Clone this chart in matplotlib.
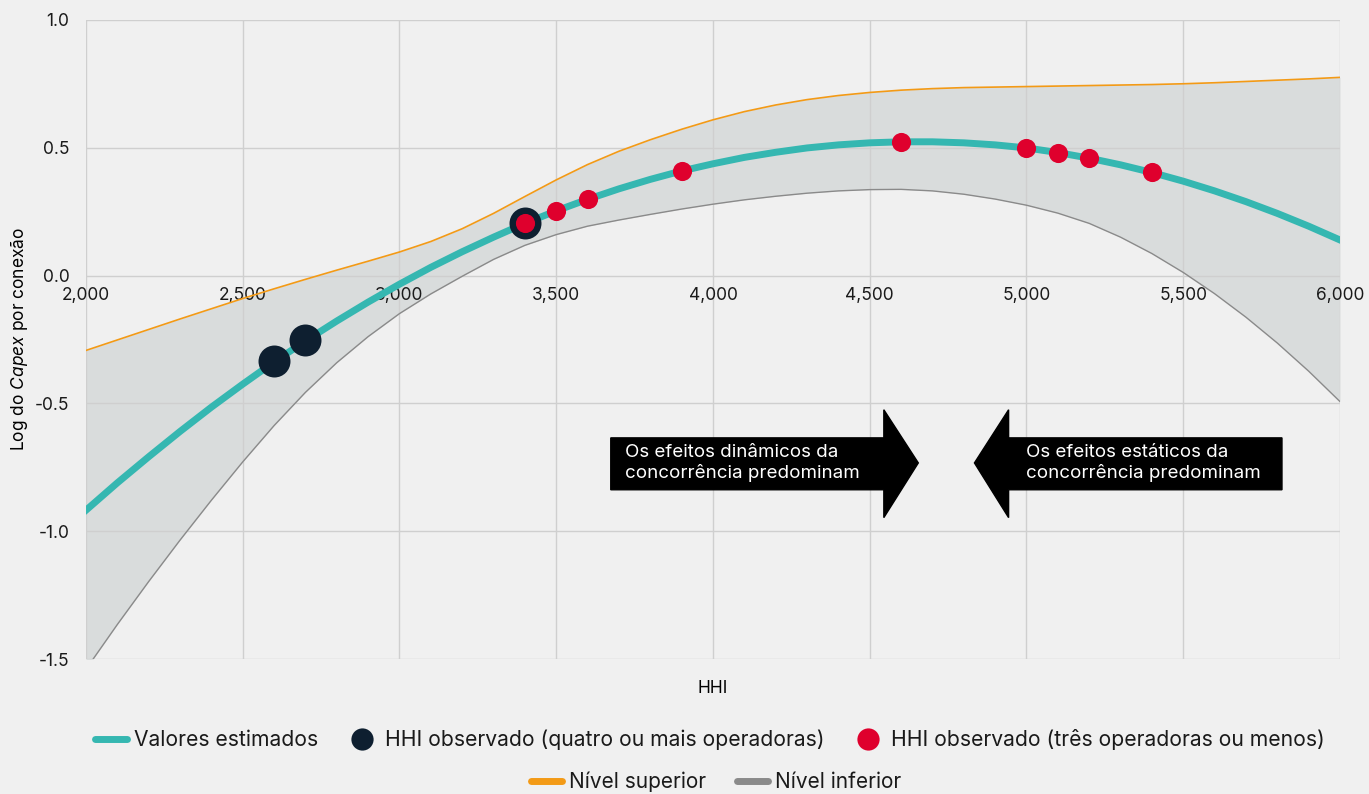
import matplotlib
matplotlib.use("Agg")
import matplotlib.pyplot as plt
from matplotlib.lines import Line2D
from matplotlib.patches import Polygon

plt.rcParams["font.family"] = ["Inter", "DejaVu Sans"]
plt.rcParams["mathtext.fontset"] = "custom"
plt.rcParams["mathtext.rm"] = "Inter"
plt.rcParams["mathtext.it"] = "Inter:italic"

# HHI grid for the fitted curves (every 100 points)
hhi = list(range(2000, 6001, 100))
estimated = [
    -0.918, -0.811, -0.709, -0.610, -0.515, -0.425, -0.338, -0.256, -0.178, -0.104,
    -0.034, 0.032, 0.093, 0.150, 0.204, 0.253, 0.298, 0.339, 0.376, 0.409,
    0.437, 0.462, 0.482, 0.499, 0.511, 0.519, 0.523, 0.523, 0.519, 0.511,
    0.499, 0.481, 0.459, 0.433, 0.403, 0.369, 0.331, 0.289, 0.243, 0.193, 0.139,
]
upper = [
    -0.293, -0.252, -0.211, -0.170, -0.130, -0.090, -0.052, -0.015, 0.021, 0.056,
    0.092, 0.133, 0.183, 0.243, 0.309, 0.374, 0.434, 0.486, 0.531, 0.572,
    0.609, 0.641, 0.667, 0.688, 0.704, 0.716, 0.725, 0.731, 0.735, 0.737,
    0.739, 0.741, 0.743, 0.745, 0.747, 0.750, 0.754, 0.759, 0.764, 0.769, 0.775,
]
lower = [
    -1.540, -1.365, -1.197, -1.035, -0.879, -0.729, -0.587, -0.457, -0.341, -0.239,
    -0.149, -0.072, -0.003, 0.063, 0.118, 0.160, 0.193, 0.217, 0.239, 0.260,
    0.279, 0.296, 0.310, 0.322, 0.331, 0.336, 0.337, 0.331, 0.318, 0.299,
    0.275, 0.244, 0.204, 0.150, 0.086, 0.012, -0.071, -0.163, -0.264, -0.374, -0.493,
]

# observed markets
hhi_four_plus = [2600, 2700, 3400]
val_four_plus = [-0.335, -0.254, 0.205]
hhi_three_less = [3400, 3500, 3600, 3900, 4600, 5000, 5100, 5200, 5400]
val_three_less = [0.205, 0.253, 0.299, 0.409, 0.523, 0.499, 0.481, 0.459, 0.403]

x_ticks = [2000, 2500, 3000, 3500, 4000, 4500, 5000, 5500, 6000]
x_tick_labels = ["2,000", "2,500", "3,000", "3,500", "4,000", "4,500", "5,000", "5,500", "6,000"]
y_ticks = [-1.5, -1.0, -0.5, 0.0, 0.5, 1.0]
y_tick_labels = ["-1.5", "-1.0", "-0.5", "0.0", "0.5", "1.0"]

BG = "#F0F0F0"
TEAL = "#35B7B1"
NAVY = "#0E1F30"
RED = "#DF002D"
ORANGE = "#F39A16"
GREY = "#8A8A8A"

fig = plt.figure(figsize=(13.69, 7.94), dpi=100, facecolor=BG)
ax = fig.add_axes([0.0628, 0.17, 0.916, 0.805], facecolor=BG)

ax.fill_between(hhi, lower, upper, color="#D9DCDC", zorder=1, linewidth=0)
ax.plot(hhi, upper, color=ORANGE, lw=1.2, zorder=2)
ax.plot(hhi, lower, color=GREY, lw=1.0, zorder=2)
ax.plot(hhi, estimated, color=TEAL, lw=5, zorder=3, solid_joinstyle="round")
ax.scatter(hhi_four_plus, val_four_plus, s=530, color=NAVY, zorder=4, linewidths=0)
ax.scatter(hhi_three_less, val_three_less, s=190, color=RED, zorder=5, linewidths=0)

ax.set_xlim(2000, 6000)
ax.set_ylim(-1.5, 1.0)
ax.set_xticks(x_ticks, x_tick_labels)
ax.set_yticks(y_ticks, y_tick_labels)
ax.tick_params(axis="both", length=0, labelsize=12.5, colors="#1A1A1A")
ax.tick_params(axis="x", pad=8)
ax.tick_params(axis="y", pad=12)
ax.set_axisbelow("line")
ax.grid(True, color="#CFCFCF", lw=1)
for sp in ax.spines.values():
    sp.set_visible(False)
ax.spines["bottom"].set_position(("data", 0))

ax.set_xlabel("HHI", fontsize=12.5)
ax.xaxis.set_label_coords(0.5, -0.033)
ax.set_ylabel("Log do $\\it{Capex}$ por conexão", fontsize=12.5)
ax.yaxis.set_label_coords(-0.045, 0.5)

# annotation arrows
y_top, y_bot, y_mid = -0.635, -0.838, -0.733
head_top, head_bot = -0.525, -0.947
right_arrow = [(3674, y_top), (4545, y_top), (4545, head_top), (4655, y_mid),
               (4545, head_bot), (4545, y_bot), (3674, y_bot)]
left_arrow = [(5815, y_top), (4943, y_top), (4943, head_top), (4834, y_mid),
              (4943, head_bot), (4943, y_bot), (5815, y_bot)]
for verts in (right_arrow, left_arrow):
    ax.add_patch(Polygon(verts, closed=True, color="black", zorder=6))
ax.text(3718, y_mid, "Os efeitos dinâmicos da\nconcorrência predominam", color="white",
        fontsize=13.5, va="center", ha="left", linespacing=1.2, zorder=7)
ax.text(4998, y_mid, "Os efeitos estáticos da\nconcorrência predominam", color="white",
        fontsize=13.5, va="center", ha="left", linespacing=1.2, zorder=7)

row1 = [
    Line2D([], [], color=TEAL, lw=5, solid_capstyle="round"),
    Line2D([], [], ls="none", marker="o", ms=16, color=NAVY, markeredgewidth=0),
    Line2D([], [], ls="none", marker="o", ms=16, color=RED, markeredgewidth=0),
]
row1_labels = ["Valores estimados", "HHI observado (quatro ou mais operadoras)",
               "HHI observado (três operadoras ou menos)"]
row2 = [
    Line2D([], [], color=ORANGE, lw=5, solid_capstyle="round"),
    Line2D([], [], color=GREY, lw=5, solid_capstyle="round"),
]
row2_labels = ["Nível superior", "Nível inferior"]

leg1 = fig.legend(row1, row1_labels, loc="center", bbox_to_anchor=(0.5185, 1 - 740 / 794),
                  ncol=3, frameon=False, fontsize=15.2, handlelength=1.5,
                  handletextpad=0.35, columnspacing=1.3)
leg2 = fig.legend(row2, row2_labels, loc="center", bbox_to_anchor=(0.523, 1 - 782 / 794),
                  ncol=2, frameon=False, fontsize=15, handlelength=1.5,
                  handletextpad=0.35, columnspacing=1.45)
for leg in (leg1, leg2):
    for t in leg.get_texts():
        t.set_color("#1A1A1A")

fig.savefig("out.png", dpi=100, facecolor=BG)
